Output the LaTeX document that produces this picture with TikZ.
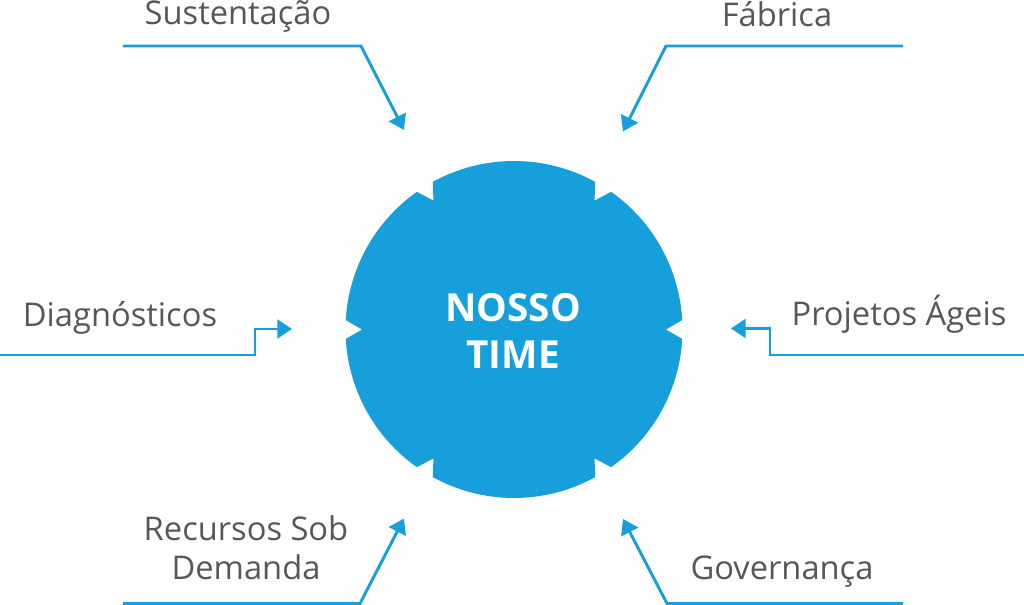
\documentclass[tikz,border=0pt]{standalone}
\usepackage{fontspec}
\setmainfont{Open Sans}
\usetikzlibrary{arrows.meta,calc}
\definecolor{bluec}{HTML}{169FDA}
\definecolor{txtc}{HTML}{575757}
\begin{document}
\begin{tikzpicture}[x=0.75pt,y=-0.75pt,
  lbl/.style={text=txtc,font=\fontsize{24.5}{29.25}\selectfont,inner sep=0pt,anchor=base,align=center},
  ttl/.style={text=white,font=\fontsize{29}{35}\selectfont\bfseries,inner sep=0pt,anchor=base},
  conn/.style={draw=bluec,line width=2.2pt,-{Triangle[length=11pt,width=14pt]}}]
\useasboundingbox (0,0) rectangle (1024,605);
\def\R{168.5}
\def\r{152}
\coordinate (c) at (514,329.5);
% notched disc
\fill[bluec] ($(c)+(3.2:\R)$) arc[start angle=3.2,end angle=54.8,radius=\R]
  -- ($(c)+(58:\r)$) -- ($(c)+(61.2:\R)$) arc[start angle=61.2,end angle=118.8,radius=\R]
  -- ($(c)+(122:\r)$) -- ($(c)+(125.2:\R)$) arc[start angle=125.2,end angle=176.8,radius=\R]
  -- ($(c)+(180:\r)$) -- ($(c)+(183.2:\R)$) arc[start angle=183.2,end angle=234.8,radius=\R]
  -- ($(c)+(238:\r)$) -- ($(c)+(241.2:\R)$) arc[start angle=241.2,end angle=298.8,radius=\R]
  -- ($(c)+(302:\r)$) -- ($(c)+(305.2:\R)$) arc[start angle=305.2,end angle=356.8,radius=\R]
  -- ($(c)+(0:\r)$) -- cycle;
\node[ttl] (nosso) at (513,321.7) {NOSSO};
\node[ttl] (time) at (513,368.3) {TIME};
% labels
\node[lbl] (sust) at (238,25) {Sustentação};
\node[lbl] (fab) at (777,27) {Fábrica};
\node[lbl] (diag) at (120,327) {Diagnósticos};
\node[lbl] (proj) at (899,326) {Projetos Ágeis};
\node[lbl] (rec) at (246,579) {Recursos Sob\\Demanda};
\node[lbl] (gov) at (782,579) {Governança};
% connector coordinates
\coordinate (s0) at (123,46); \coordinate (s1) at (361,46); \coordinate (s2) at (404,130);
\coordinate (f0) at (903,46); \coordinate (f1) at (666,46); \coordinate (f2) at (623,131.5);
\coordinate (d0) at (0,355); \coordinate (d1) at (255,355); \coordinate (d2) at (255,329); \coordinate (d3) at (292,329);
\coordinate (p0) at (1024,355); \coordinate (p1) at (770,355); \coordinate (p2) at (770,328.5); \coordinate (p3) at (731,328.5);
\coordinate (r0) at (123,603.5); \coordinate (r1) at (360,603.5); \coordinate (r2) at (404,518.5);
\coordinate (g0) at (903,603.5); \coordinate (g1) at (667,603.5); \coordinate (g2) at (623,519);
\draw[conn] (s0) -- (s1) -- (s2);
\draw[conn] (f0) -- (f1) -- (f2);
\draw[conn] (d0) -- (d1) -- (d2) -- (d3);
\draw[conn] (p0) -- (p1) -- (p2) -- (p3);
\draw[conn] (r0) -- (r1) -- (r2);
\draw[conn] (g0) -- (g1) -- (g2);
\end{tikzpicture}
\end{document}
